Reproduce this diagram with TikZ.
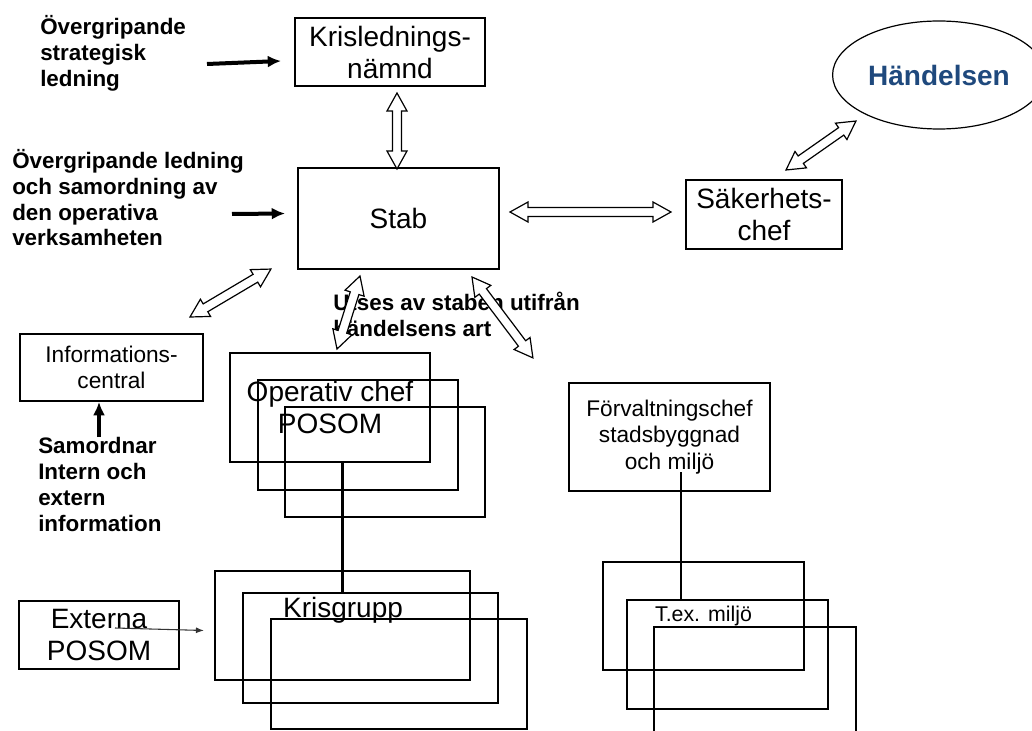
\documentclass[tikz,border=0pt]{standalone}
\usepackage{fontspec}
\setmainfont{Liberation Sans}
\usetikzlibrary{arrows.meta,calc,shapes.geometric}
\definecolor{eventblue}{RGB}{31,73,125}

\tikzset{
    boxsize/.style 2 args={minimum width={#1*0.75pt}, minimum height={#2*0.75pt}},
    box/.style={draw, line width=1.4pt, inner sep=0pt, align=center,
                font=\fontsize{21}{24}\selectfont},
    smallbox/.style={box, font=\fontsize{17}{19.5}\selectfont},
    stack/.style={draw, line width=1.6pt, inner sep=0pt, align=center,
                  font=\fontsize{21}{24}\selectfont},
    note/.style={font=\bfseries\fontsize{16.8}{19.5}\selectfont, align=left,
                 inner sep=0pt, anchor=base west},
    pointer/.style={line width=3pt, -{Latex[length=10pt, width=9pt]}},
    thinpointer/.style={line width=0.8pt, black!80, -{Latex[length=6pt, width=4.5pt]}},
    pics/twoway/.style={code={
        \draw [line width=0.9pt, fill=white, line join=miter]
            (0pt,0pt) -- (13.5pt,-7.5pt) -- (13.5pt,-3.4pt) -- ({#1*1pt-13.5pt},-3.4pt)
            -- ({#1*1pt-13.5pt},-7.5pt) -- ({#1*1pt},0pt) -- ({#1*1pt-13.5pt},7.5pt)
            -- ({#1*1pt-13.5pt},3.4pt) -- (13.5pt,3.4pt) -- (13.5pt,7.5pt) -- cycle;
    }}
}

% hollow double arrow between two named points
\newcommand\twoway[2]{%
    \path let \p1=($(#2)-(#1)$), \n1={atan2(\y1,\x1)}, \n2={veclen(\x1,\y1)} in
        (#1) pic [rotate=\n1] {twoway=\n2};}

\begin{document}
\begin{tikzpicture}[x=0.75pt, y=-0.75pt]
    \useasboundingbox (0,0) rectangle (1032,731);

    % Texts beside the boxes (placed by their last line)
    \node [note] (strat-lbl) at (40,87) {Övergripande\\strategisk\\ledning};
    \node [note] (oper-lbl) at (12,246) {Övergripande ledning\\och samordning av\\den operativa\\verksamheten};
    \node [note] (samord-lbl) at (38,531) {Samordnar\\Intern och\\extern\\information};
    \node [note] (utses-lbl) at (333,336) {Utses av staben utifrån\\händelsens art};

    % Boxes
    \node [box, boxsize={190}{68}] (krisn) at (390,52) {Krislednings-\\nämnd};
    \node [box, boxsize={201}{101}] (stab) at (398.5,218.5) {Stab};
    \node [box, boxsize={156}{69}] (saker) at (764,214.5) {Säkerhets-\\chef};
    \node [smallbox, boxsize={183}{67}] (info) at (111.5,367.5) {Informations-\\central};
    \node [smallbox, boxsize={201}{108}, font=\fontsize{17}{20}\selectfont] (forv) at (669.5,437)
        {Förvaltningschef\\stadsbyggnad\\och miljö};
    \node [box, boxsize={160}{68}] (ext) at (99,635) {Externa\\POSOM};

    % Event
    \node [draw, ellipse, line width=0.9pt, boxsize={192}{108}, text=eventblue,
           font=\bfseries\fontsize{21}{24}\selectfont] (hand) at (939,75) {Händelsen};

    % Operativ chef stack
    \node [stack, boxsize={200}{109}] (op1) at (330,407.5) {Operativ chef\\POSOM};
    \node [stack, boxsize={200}{110}] (op2) at (358,435) {};
    \node [stack, boxsize={200}{110}] (op3) at (385,462) {};

    % Krisgrupp stack
    \node [stack, boxsize={255}{109}] (kris1) at (342.5,625.5) {};
    \node [stack, boxsize={255}{110}] (kris2) at (370.5,648) {};
    \node [stack, boxsize={256}{110}] (kris3) at (399,674) {};
    \node [font=\fontsize{21}{24}\selectfont, inner sep=0pt] (kris-lbl) at (343,610) {Krisgrupp};

    % Miljo stack
    \node [stack, boxsize={201}{108}, font=\fontsize{16}{19}\selectfont] (milj1) at (703.5,616) {T.ex. miljö};
    \node [stack, boxsize={201}{109}] (milj2) at (727.5,654.5) {};
    \node [stack, boxsize={202}{130}] (milj3) at (755,692) {};

    % Lines down to the groups
    \draw [line width=1.6pt] (op1.south -| kris1.north) -- (kris2.north -| kris1.north);
    \coordinate (fdrop) at (681,472);
    \draw [line width=1.1pt] (fdrop) -- (fdrop |- milj2.north);

    % Plain arrows
    \coordinate (strat) at (207,64);
    \draw [pointer] (strat) -- ($(krisn.west)+(-13,9)$);
    \coordinate (oper) at (232,214);
    \draw [pointer] (oper) -- ($(stab.west)+(-12,-5)$);
    \coordinate (samord) at (99,437);
    \draw [pointer] (samord) -- (samord |- info.south);
    \draw [thinpointer] ($(ext.center)+(16,-7)$) -- ($(kris1.west)+(-10,5)$);

    % Double arrows
    \coordinate (ks-top) at (397,93);
    \coordinate (ks-bot) at (397,169);
    \coordinate (ss-left) at (510,212);
    \coordinate (ss-right) at (671,212);
    \coordinate (sh-low) at (786,170);
    \coordinate (sh-high) at (856,121);
    \coordinate (is-low) at (190,317);
    \coordinate (is-high) at (271,269);
    \coordinate (os-low) at (337,349);
    \coordinate (os-high) at (360,276);
    \coordinate (fs-high) at (472,277);
    \coordinate (fs-low) at (533,358);
    \twoway{ks-top}{ks-bot}
    \twoway{ss-left}{ss-right}
    \twoway{sh-low}{sh-high}
    \twoway{is-low}{is-high}
    \twoway{os-low}{os-high}
    \twoway{fs-high}{fs-low}
\end{tikzpicture}
\end{document}
